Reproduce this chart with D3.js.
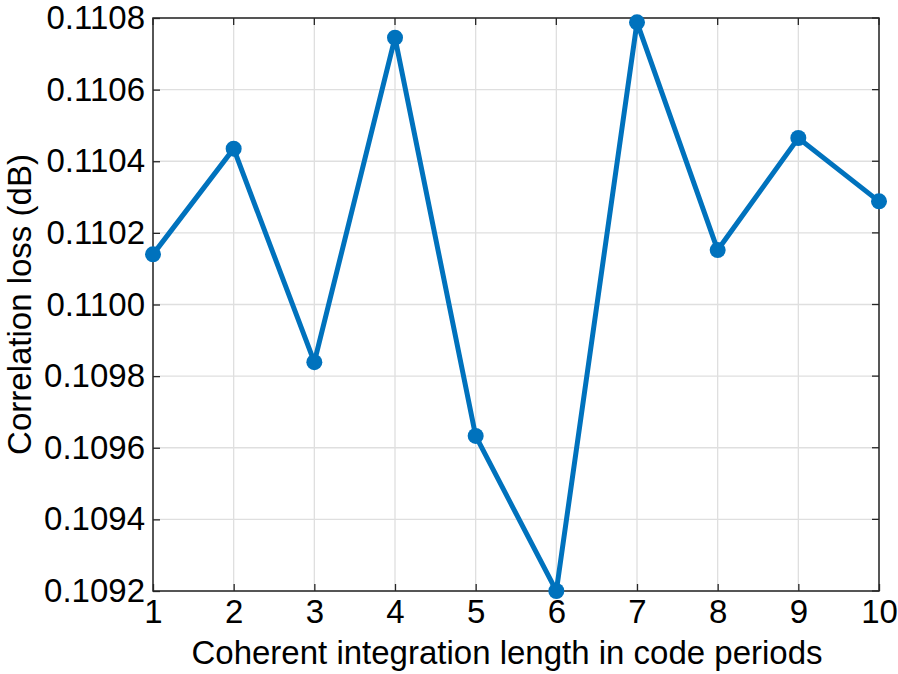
<!DOCTYPE html>
<html><head><meta charset="utf-8">
<script src="https://cdn.jsdelivr.net/npm/d3@7"></script>
<style>body{margin:0;background:#fff;} text{font-family:"Liberation Sans",Arial,sans-serif;}</style>
</head><body>
<svg id="chart" width="898" height="674"></svg>
<script>
const xValues = [1,2,3,4,5,6,7,8,9,10];
const lossValues = [0.110140,0.110435,0.109839,0.110745,0.109633,0.109200,0.110788,0.110152,0.110465,0.110288];
const xTicks = [1,2,3,4,5,6,7,8,9,10];
const yTicks = [0.1092,0.1094,0.1096,0.1098,0.1100,0.1102,0.1104,0.1106,0.1108];
const xLabel = "Coherent integration length in code periods";
const yLabel = "Correlation loss (dB)";

const svg = d3.select("#chart");
const L=153, R=879, T=18, B=591;
const x = d3.scaleLinear().domain([1,10]).range([L,R]);
const y = d3.scaleLinear().domain([0.1092,0.1108]).range([B,T]);

// grid
svg.append("g").selectAll("line").data(xTicks).join("line")
  .attr("x1",d=>x(d)).attr("x2",d=>x(d)).attr("y1",T).attr("y2",B)
  .attr("stroke","#dfdfdf").attr("stroke-width",1.3);
svg.append("g").selectAll("line").data(yTicks).join("line")
  .attr("x1",L).attr("x2",R).attr("y1",d=>y(d)).attr("y2",d=>y(d))
  .attr("stroke","#dfdfdf").attr("stroke-width",1.3);

const fs = 33;
const xAxis = svg.append("g").attr("transform",`translate(0,${B})`)
  .call(d3.axisBottom(x).tickValues(xTicks).tickFormat(d3.format("d")).tickSizeInner(-7).tickSizeOuter(0).tickPadding(9));
const yAxis = svg.append("g").attr("transform",`translate(${L},0)`)
  .call(d3.axisLeft(y).tickValues(yTicks).tickFormat(d3.format(".4f")).tickSizeInner(-7).tickSizeOuter(0).tickPadding(8));
[xAxis,yAxis].forEach(g=>{
  g.select(".domain").remove();
  g.selectAll(".tick line").attr("stroke","#262626").attr("stroke-width",1.3);
  g.selectAll("text").attr("fill","#000").style("font-size",fs+"px").style("font-family","'Liberation Sans',Arial,sans-serif");
});
// top/right ticks
svg.append("g").selectAll("line").data(xTicks).join("line")
  .attr("x1",d=>x(d)).attr("x2",d=>x(d)).attr("y1",T).attr("y2",T+7).attr("stroke","#262626").attr("stroke-width",1.3);
svg.append("g").selectAll("line").data(yTicks).join("line")
  .attr("x1",R-7).attr("x2",R).attr("y1",d=>y(d)).attr("y2",d=>y(d)).attr("stroke","#262626").attr("stroke-width",1.3);
// box
svg.append("rect").attr("x",L).attr("y",T).attr("width",R-L).attr("height",B-T)
  .attr("fill","none").attr("stroke","#262626").attr("stroke-width",1.5);

const line = d3.line().x((d,i)=>x(xValues[i])).y(d=>y(d));
svg.append("path").datum(lossValues).attr("d",line).attr("fill","none")
  .attr("stroke","#0072BD").attr("stroke-width",5).attr("stroke-linejoin","miter");
svg.append("g").selectAll("circle").data(lossValues).join("circle")
  .attr("cx",(d,i)=>x(xValues[i])).attr("cy",d=>y(d)).attr("r",8).attr("fill","#0072BD");

svg.append("text").attr("x",(L+R)/2-9).attr("y",664).attr("text-anchor","middle")
  .style("font-size",fs+"px").text(xLabel);
svg.append("text").attr("transform",`translate(31,${(T+B)/2}) rotate(-90)`).attr("text-anchor","middle")
  .style("font-size",fs+"px").text(yLabel);
</script>
</body></html>
